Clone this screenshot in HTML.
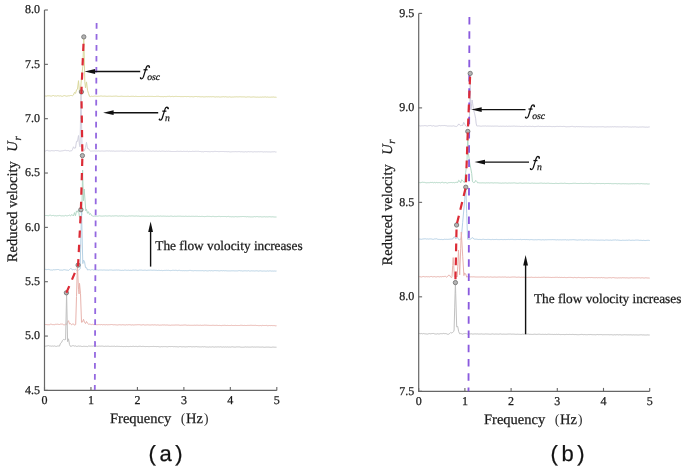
<!DOCTYPE html><html><head><meta charset="utf-8"><style>html,body{margin:0;padding:0;background:#fff;overflow:hidden}svg{display:block;will-change:transform;filter:blur(0.3px);text-rendering:geometricPrecision}text{stroke:#222;stroke-width:0.25px}</style></head><body><svg width="685" height="470" viewBox="0 0 685 470" font-family='"Liberation Serif", serif'>
<rect width="685" height="470" fill="#fff"/>
<path d="M44.5,95.6 L45.5,96.0 L46.5,96.1 L47.5,95.8 L48.5,95.8 L49.5,95.8 L50.5,96.0 L51.5,96.1 L52.5,95.7 L53.5,95.5 L54.5,96.0 L55.5,95.9 L56.5,96.1 L57.5,95.7 L58.5,95.8 L59.5,96.0 L60.5,95.8 L61.5,96.2 L62.5,96.3 L63.5,95.8 L64.5,95.6 L65.5,95.9 L66.5,96.2 L67.5,96.0 L68.5,95.8 L69.5,95.8 L70.5,95.5 L71.5,95.5 L72.5,95.7 L73.5,94.9 L74.5,92.4 L75.5,93.4 L76.5,90.0 L77.5,89.0 L78.5,80.7 L79.5,92.4 L80.5,89.2 L81.5,78.4 L82.8,66.3 L83.8,37.0 L84.8,81.7 L85.5,87.9 L86.5,81.9 L87.5,90.2 L88.5,93.4 L89.5,96.4 L90.5,96.6 L91.5,96.2 L92.5,96.4 L93.5,96.3 L94.5,96.1 L95.5,96.2 L96.5,96.3 L97.5,96.3 L98.5,96.2 L99.5,96.2 L100.5,96.0 L101.5,96.0 L102.5,96.2 L103.5,96.2 L104.5,96.1 L105.5,96.2 L106.5,96.3 L107.5,96.3 L108.5,96.2 L109.5,96.2 L110.5,96.2 L111.5,96.3 L112.5,96.3 L113.5,96.2 L114.5,96.2 L115.5,96.1 L116.5,96.1 L117.5,96.3 L118.5,96.4 L119.5,96.4 L120.5,96.3 L121.5,96.2 L122.5,96.3 L123.5,96.4 L124.5,96.4 L125.5,96.4 L126.5,96.4 L127.5,96.3 L128.5,96.3 L129.5,96.5 L130.5,96.4 L131.5,96.3 L132.5,96.3 L133.5,96.3 L134.5,96.5 L135.5,96.3 L136.5,96.4 L137.5,96.5 L138.5,96.5 L139.5,96.5 L140.5,96.5 L141.5,96.4 L142.5,96.4 L143.5,96.4 L144.5,96.3 L145.5,96.5 L146.5,96.5 L147.5,96.3 L148.5,96.4 L149.5,96.4 L150.5,96.4 L151.5,96.4 L152.5,96.4 L153.5,96.5 L154.5,96.5 L155.5,96.5 L156.5,96.3 L157.5,96.3 L158.5,96.3 L159.5,96.5 L160.5,96.6 L161.5,96.6 L162.5,96.6 L163.5,96.7 L164.5,96.5 L165.5,96.6 L166.5,96.6 L167.5,96.4 L168.5,96.4 L169.5,96.3 L170.5,96.6 L171.5,96.5 L172.5,96.4 L173.5,96.6 L174.5,96.5 L175.5,96.4 L176.5,96.4 L177.5,96.5 L178.5,96.5 L179.5,96.5 L180.5,96.6 L181.5,96.6 L182.5,96.6 L183.5,96.6 L184.5,96.5 L185.5,96.5 L186.5,96.6 L187.5,96.5 L188.5,96.5 L189.5,96.7 L190.5,96.7 L191.5,96.6 L192.5,96.7 L193.5,96.8 L194.5,96.6 L195.5,96.5 L196.5,96.5 L197.5,96.7 L198.5,96.6 L199.5,96.7 L200.5,96.8 L201.5,96.8 L202.5,96.7 L203.5,96.9 L204.5,96.9 L205.5,96.8 L206.5,96.7 L207.5,96.8 L208.5,96.7 L209.5,96.8 L210.5,96.7 L211.5,96.8 L212.5,96.7 L213.5,96.7 L214.5,96.9 L215.5,97.0 L216.5,96.8 L217.5,96.9 L218.5,96.8 L219.5,97.0 L220.5,97.0 L221.5,96.9 L222.5,96.8 L223.5,96.7 L224.5,96.9 L225.5,96.7 L226.5,96.9 L227.5,97.0 L228.5,97.0 L229.5,96.8 L230.5,97.0 L231.5,97.1 L232.5,97.0 L233.5,97.0 L234.5,96.9 L235.5,96.9 L236.5,96.8 L237.5,96.9 L238.5,96.9 L239.5,96.8 L240.5,96.8 L241.5,96.9 L242.5,96.9 L243.5,96.9 L244.5,96.9 L245.5,97.1 L246.5,97.1 L247.5,96.9 L248.5,96.9 L249.5,96.9 L250.5,97.1 L251.5,97.1 L252.5,97.0 L253.5,96.9 L254.5,97.0 L255.5,97.1 L256.5,97.2 L257.5,97.1 L258.5,97.2 L259.5,97.2 L260.5,97.1 L261.5,97.2 L262.5,97.0 L263.5,97.1 L264.5,97.0 L265.5,96.9 L266.5,97.2 L267.5,97.0 L268.5,97.2 L269.5,97.2 L270.5,97.2 L271.5,97.1 L272.5,97.1 L273.5,97.0 L274.5,97.2 L275.5,97.2 L276.5,97.3" fill="none" stroke="#dad89c" stroke-width="1.0" stroke-linejoin="miter" stroke-miterlimit="2"/>
<path d="M44.5,150.9 L45.5,151.0 L46.5,150.5 L47.5,150.4 L48.5,150.8 L49.5,150.9 L50.5,150.9 L51.5,150.6 L52.5,150.7 L53.5,150.8 L54.5,150.8 L55.5,150.5 L56.5,150.6 L57.5,150.6 L58.5,150.8 L59.5,151.1 L60.5,151.1 L61.5,150.9 L62.5,150.8 L63.5,150.6 L64.5,150.4 L65.5,150.3 L66.5,150.6 L67.5,150.6 L68.5,150.6 L69.5,151.1 L70.5,150.9 L71.5,150.9 L72.5,149.5 L73.5,146.8 L74.5,148.3 L75.5,148.0 L76.5,141.3 L77.5,141.4 L78.5,135.5 L79.5,145.3 L80.0,146.8 L80.5,119.4 L81.0,92.0 L81.5,119.8 L82.0,147.7 L82.5,149.0 L83.5,150.1 L84.5,150.6 L85.5,147.4 L86.5,142.3 L87.5,148.5 L88.5,148.6 L89.5,150.3 L90.5,151.1 L91.5,151.1 L92.5,151.0 L93.5,151.0 L94.5,150.9 L95.5,151.1 L96.5,151.0 L97.5,151.1 L98.5,150.9 L99.5,151.1 L100.5,151.1 L101.5,151.0 L102.5,151.0 L103.5,151.1 L104.5,151.1 L105.5,151.0 L106.5,150.9 L107.5,150.9 L108.5,151.0 L109.5,150.9 L110.5,151.1 L111.5,151.0 L112.5,151.1 L113.5,151.0 L114.5,151.2 L115.5,151.2 L116.5,151.1 L117.5,151.1 L118.5,151.1 L119.5,151.1 L120.5,151.0 L121.5,151.0 L122.5,151.1 L123.5,151.2 L124.5,151.2 L125.5,151.0 L126.5,151.2 L127.5,151.2 L128.5,151.3 L129.5,151.1 L130.5,151.2 L131.5,151.0 L132.5,151.1 L133.5,151.1 L134.5,151.0 L135.5,151.2 L136.5,151.1 L137.5,151.1 L138.5,151.3 L139.5,151.1 L140.5,151.1 L141.5,151.3 L142.5,151.2 L143.5,151.3 L144.5,151.1 L145.5,151.1 L146.5,151.1 L147.5,151.2 L148.5,151.1 L149.5,151.3 L150.5,151.1 L151.5,151.3 L152.5,151.1 L153.5,151.1 L154.5,151.3 L155.5,151.2 L156.5,151.1 L157.5,151.3 L158.5,151.3 L159.5,151.1 L160.5,151.4 L161.5,151.2 L162.5,151.1 L163.5,151.2 L164.5,151.3 L165.5,151.4 L166.5,151.2 L167.5,151.3 L168.5,151.2 L169.5,151.3 L170.5,151.4 L171.5,151.5 L172.5,151.5 L173.5,151.5 L174.5,151.5 L175.5,151.5 L176.5,151.4 L177.5,151.3 L178.5,151.4 L179.5,151.4 L180.5,151.3 L181.5,151.4 L182.5,151.5 L183.5,151.3 L184.5,151.4 L185.5,151.4 L186.5,151.4 L187.5,151.3 L188.5,151.6 L189.5,151.4 L190.5,151.5 L191.5,151.5 L192.5,151.3 L193.5,151.4 L194.5,151.4 L195.5,151.3 L196.5,151.3 L197.5,151.3 L198.5,151.3 L199.5,151.5 L200.5,151.5 L201.5,151.7 L202.5,151.7 L203.5,151.8 L204.5,151.5 L205.5,151.5 L206.5,151.5 L207.5,151.6 L208.5,151.6 L209.5,151.7 L210.5,151.7 L211.5,151.5 L212.5,151.6 L213.5,151.6 L214.5,151.4 L215.5,151.4 L216.5,151.5 L217.5,151.5 L218.5,151.6 L219.5,151.6 L220.5,151.5 L221.5,151.5 L222.5,151.5 L223.5,151.5 L224.5,151.6 L225.5,151.6 L226.5,151.6 L227.5,151.7 L228.5,151.6 L229.5,151.8 L230.5,151.9 L231.5,151.8 L232.5,151.7 L233.5,151.7 L234.5,151.7 L235.5,151.6 L236.5,151.7 L237.5,151.7 L238.5,151.6 L239.5,151.6 L240.5,151.8 L241.5,151.7 L242.5,151.8 L243.5,151.9 L244.5,151.9 L245.5,151.7 L246.5,151.9 L247.5,151.8 L248.5,151.6 L249.5,151.8 L250.5,151.7 L251.5,151.7 L252.5,151.9 L253.5,151.9 L254.5,151.7 L255.5,151.8 L256.5,151.8 L257.5,151.8 L258.5,151.7 L259.5,151.8 L260.5,151.7 L261.5,151.7 L262.5,151.8 L263.5,152.0 L264.5,151.8 L265.5,151.9 L266.5,151.8 L267.5,151.9 L268.5,151.9 L269.5,151.9 L270.5,152.0 L271.5,151.9 L272.5,151.8 L273.5,151.8 L274.5,151.7 L275.5,152.0 L276.5,152.0" fill="none" stroke="#d2d1df" stroke-width="1.0" stroke-linejoin="miter" stroke-miterlimit="2"/>
<path d="M44.5,215.4 L45.5,215.5 L46.5,215.5 L47.5,215.6 L48.5,215.7 L49.5,215.3 L50.5,215.2 L51.5,215.7 L52.5,215.5 L53.5,215.4 L54.5,215.8 L55.5,215.7 L56.5,215.9 L57.5,215.7 L58.5,215.7 L59.5,215.4 L60.5,215.7 L61.5,215.9 L62.5,215.8 L63.5,215.9 L64.5,215.9 L65.5,215.4 L66.5,215.8 L67.5,215.8 L68.5,215.5 L69.5,215.1 L70.5,216.0 L71.5,214.6 L72.5,215.0 L73.5,216.0 L74.5,212.6 L75.5,215.7 L76.5,210.9 L77.5,212.2 L78.5,209.8 L79.5,217.3 L80.5,217.5 L81.8,214.4 L82.6,170.0 L83.4,200.7 L84.2,189.0 L85.8,210.8 L86.5,209.3 L87.5,213.3 L88.5,211.7 L89.5,214.6 L90.5,213.5 L91.5,215.5 L92.5,215.9 L93.5,216.3 L94.5,216.1 L95.5,216.2 L96.5,216.1 L97.5,216.2 L98.5,216.0 L99.5,215.8 L100.5,216.0 L101.5,216.1 L102.5,216.1 L103.5,216.0 L104.5,216.0 L105.5,215.8 L106.5,216.0 L107.5,216.0 L108.5,215.9 L109.5,215.8 L110.5,216.0 L111.5,216.1 L112.5,215.9 L113.5,216.0 L114.5,215.9 L115.5,215.8 L116.5,215.8 L117.5,216.0 L118.5,216.1 L119.5,215.9 L120.5,216.0 L121.5,215.8 L122.5,216.0 L123.5,215.9 L124.5,216.1 L125.5,216.2 L126.5,216.1 L127.5,216.2 L128.5,216.0 L129.5,215.9 L130.5,216.0 L131.5,215.9 L132.5,215.9 L133.5,216.0 L134.5,216.1 L135.5,216.0 L136.5,215.9 L137.5,216.1 L138.5,216.0 L139.5,216.2 L140.5,216.3 L141.5,216.1 L142.5,216.1 L143.5,216.1 L144.5,216.2 L145.5,216.2 L146.5,216.2 L147.5,216.2 L148.5,216.3 L149.5,216.2 L150.5,216.1 L151.5,216.2 L152.5,216.1 L153.5,216.1 L154.5,216.3 L155.5,216.2 L156.5,216.2 L157.5,216.0 L158.5,216.1 L159.5,216.2 L160.5,216.0 L161.5,216.2 L162.5,216.2 L163.5,216.1 L164.5,216.2 L165.5,216.2 L166.5,216.3 L167.5,216.2 L168.5,216.3 L169.5,216.3 L170.5,216.1 L171.5,216.1 L172.5,216.3 L173.5,216.4 L174.5,216.2 L175.5,216.3 L176.5,216.3 L177.5,216.2 L178.5,216.2 L179.5,216.2 L180.5,216.2 L181.5,216.3 L182.5,216.3 L183.5,216.3 L184.5,216.4 L185.5,216.2 L186.5,216.3 L187.5,216.4 L188.5,216.3 L189.5,216.3 L190.5,216.4 L191.5,216.3 L192.5,216.3 L193.5,216.3 L194.5,216.4 L195.5,216.3 L196.5,216.3 L197.5,216.3 L198.5,216.5 L199.5,216.4 L200.5,216.5 L201.5,216.4 L202.5,216.4 L203.5,216.5 L204.5,216.6 L205.5,216.5 L206.5,216.4 L207.5,216.3 L208.5,216.4 L209.5,216.4 L210.5,216.5 L211.5,216.6 L212.5,216.4 L213.5,216.4 L214.5,216.6 L215.5,216.6 L216.5,216.6 L217.5,216.5 L218.5,216.4 L219.5,216.4 L220.5,216.6 L221.5,216.5 L222.5,216.5 L223.5,216.5 L224.5,216.5 L225.5,216.5 L226.5,216.7 L227.5,216.5 L228.5,216.4 L229.5,216.7 L230.5,216.7 L231.5,216.8 L232.5,216.7 L233.5,216.8 L234.5,216.8 L235.5,216.6 L236.5,216.7 L237.5,216.8 L238.5,216.7 L239.5,216.7 L240.5,216.6 L241.5,216.6 L242.5,216.5 L243.5,216.5 L244.5,216.6 L245.5,216.6 L246.5,216.8 L247.5,216.6 L248.5,216.8 L249.5,216.8 L250.5,216.9 L251.5,216.9 L252.5,216.9 L253.5,216.8 L254.5,216.6 L255.5,216.8 L256.5,216.6 L257.5,216.6 L258.5,216.8 L259.5,216.8 L260.5,216.7 L261.5,216.9 L262.5,216.9 L263.5,216.8 L264.5,216.7 L265.5,216.9 L266.5,216.8 L267.5,216.9 L268.5,216.8 L269.5,216.7 L270.5,216.8 L271.5,216.9 L272.5,216.8 L273.5,216.9 L274.5,217.0 L275.5,217.0 L276.5,217.0" fill="none" stroke="#b3d8c6" stroke-width="1.0" stroke-linejoin="miter" stroke-miterlimit="2"/>
<path d="M44.5,269.6 L45.5,269.4 L46.5,269.6 L47.5,269.5 L48.5,269.4 L49.5,269.6 L50.5,270.0 L51.5,270.0 L52.5,270.1 L53.5,269.7 L54.5,269.8 L55.5,269.7 L56.5,269.6 L57.5,269.5 L58.5,269.5 L59.5,270.0 L60.5,270.1 L61.5,270.1 L62.5,270.2 L63.5,269.8 L64.5,269.7 L65.5,269.9 L66.5,270.1 L67.5,270.2 L68.5,270.4 L69.5,269.6 L70.5,268.6 L71.5,268.8 L72.5,270.0 L73.5,269.5 L74.5,269.7 L75.5,269.1 L76.5,270.4 L77.5,270.8 L78.5,270.3 L79.5,269.3 L80.2,268.5 L81.5,210.0 L82.8,263.6 L83.5,260.1 L84.5,261.5 L85.5,267.6 L86.5,267.7 L87.5,270.0 L88.5,269.7 L89.5,269.7 L90.5,270.1 L91.5,269.7 L92.5,269.6 L93.5,270.0 L94.5,269.9 L95.5,270.0 L96.5,270.0 L97.5,270.0 L98.5,270.2 L99.5,270.0 L100.5,270.0 L101.5,270.0 L102.5,270.1 L103.5,270.0 L104.5,270.0 L105.5,270.1 L106.5,270.1 L107.5,270.1 L108.5,270.2 L109.5,270.0 L110.5,270.0 L111.5,270.0 L112.5,270.2 L113.5,270.2 L114.5,270.1 L115.5,270.1 L116.5,270.0 L117.5,270.1 L118.5,270.0 L119.5,270.2 L120.5,270.3 L121.5,270.4 L122.5,270.3 L123.5,270.4 L124.5,270.1 L125.5,270.1 L126.5,270.3 L127.5,270.3 L128.5,270.2 L129.5,270.4 L130.5,270.3 L131.5,270.4 L132.5,270.2 L133.5,270.1 L134.5,270.2 L135.5,270.1 L136.5,270.2 L137.5,270.4 L138.5,270.3 L139.5,270.1 L140.5,270.1 L141.5,270.1 L142.5,270.3 L143.5,270.3 L144.5,270.2 L145.5,270.2 L146.5,270.4 L147.5,270.3 L148.5,270.2 L149.5,270.2 L150.5,270.1 L151.5,270.2 L152.5,270.3 L153.5,270.2 L154.5,270.2 L155.5,270.3 L156.5,270.3 L157.5,270.5 L158.5,270.3 L159.5,270.4 L160.5,270.5 L161.5,270.4 L162.5,270.6 L163.5,270.5 L164.5,270.4 L165.5,270.4 L166.5,270.3 L167.5,270.4 L168.5,270.3 L169.5,270.5 L170.5,270.6 L171.5,270.5 L172.5,270.3 L173.5,270.3 L174.5,270.4 L175.5,270.3 L176.5,270.4 L177.5,270.6 L178.5,270.4 L179.5,270.3 L180.5,270.6 L181.5,270.6 L182.5,270.7 L183.5,270.6 L184.5,270.7 L185.5,270.6 L186.5,270.7 L187.5,270.7 L188.5,270.6 L189.5,270.4 L190.5,270.4 L191.5,270.6 L192.5,270.7 L193.5,270.8 L194.5,270.6 L195.5,270.6 L196.5,270.7 L197.5,270.7 L198.5,270.7 L199.5,270.7 L200.5,270.7 L201.5,270.7 L202.5,270.6 L203.5,270.8 L204.5,270.8 L205.5,270.6 L206.5,270.8 L207.5,270.9 L208.5,270.8 L209.5,270.6 L210.5,270.8 L211.5,270.6 L212.5,270.8 L213.5,270.8 L214.5,270.6 L215.5,270.6 L216.5,270.7 L217.5,270.7 L218.5,270.8 L219.5,270.9 L220.5,270.7 L221.5,270.6 L222.5,270.8 L223.5,270.6 L224.5,270.8 L225.5,270.7 L226.5,270.8 L227.5,270.9 L228.5,270.9 L229.5,270.9 L230.5,270.9 L231.5,270.8 L232.5,270.8 L233.5,270.8 L234.5,270.9 L235.5,270.9 L236.5,270.9 L237.5,270.9 L238.5,270.7 L239.5,270.6 L240.5,270.8 L241.5,270.8 L242.5,271.0 L243.5,270.9 L244.5,270.8 L245.5,270.8 L246.5,270.9 L247.5,270.9 L248.5,270.7 L249.5,271.0 L250.5,271.0 L251.5,270.8 L252.5,270.9 L253.5,270.9 L254.5,271.0 L255.5,270.9 L256.5,270.8 L257.5,270.9 L258.5,271.1 L259.5,270.9 L260.5,270.8 L261.5,271.0 L262.5,271.1 L263.5,271.0 L264.5,271.0 L265.5,271.1 L266.5,271.1 L267.5,270.9 L268.5,271.1 L269.5,270.9 L270.5,270.9 L271.5,271.1 L272.5,271.0 L273.5,271.1 L274.5,271.0 L275.5,271.1 L276.5,271.0" fill="none" stroke="#b6d1e4" stroke-width="1.0" stroke-linejoin="miter" stroke-miterlimit="2"/>
<path d="M44.5,324.4 L45.5,324.5 L46.5,324.6 L47.5,324.7 L48.5,324.7 L49.5,324.7 L50.5,324.2 L51.5,324.3 L52.5,324.6 L53.5,324.6 L54.5,324.7 L55.5,324.3 L56.5,324.3 L57.5,324.2 L58.5,324.4 L59.5,324.5 L60.5,324.1 L61.5,324.1 L62.5,324.1 L63.5,324.7 L64.5,324.8 L65.5,324.2 L66.5,324.7 L67.5,321.8 L68.5,320.7 L69.5,323.9 L70.5,323.5 L71.5,324.8 L72.5,324.1 L73.5,323.9 L74.5,325.2 L75.7,324.5 L76.5,296.5 L77.4,265.0 L78.5,289.6 L79.1,294.0 L79.5,283.3 L80.5,293.7 L81.5,322.3 L82.5,322.0 L83.5,319.3 L84.5,322.3 L85.5,323.6 L86.5,321.5 L87.5,323.3 L88.5,324.2 L89.5,324.1 L90.5,324.3 L91.5,324.6 L92.5,324.3 L93.5,324.6 L94.5,324.6 L95.5,324.6 L96.5,324.7 L97.5,324.7 L98.5,324.6 L99.5,324.6 L100.5,324.7 L101.5,324.5 L102.5,324.8 L103.5,324.6 L104.5,324.7 L105.5,324.8 L106.5,324.6 L107.5,324.8 L108.5,324.7 L109.5,324.7 L110.5,324.6 L111.5,324.5 L112.5,324.6 L113.5,324.8 L114.5,324.7 L115.5,324.8 L116.5,324.9 L117.5,325.0 L118.5,324.8 L119.5,324.7 L120.5,324.8 L121.5,324.9 L122.5,324.7 L123.5,324.8 L124.5,324.9 L125.5,325.0 L126.5,324.7 L127.5,324.9 L128.5,324.7 L129.5,324.7 L130.5,324.8 L131.5,325.0 L132.5,324.8 L133.5,325.0 L134.5,324.9 L135.5,324.8 L136.5,324.8 L137.5,324.7 L138.5,324.7 L139.5,324.7 L140.5,324.9 L141.5,325.0 L142.5,324.8 L143.5,324.7 L144.5,325.0 L145.5,325.0 L146.5,324.9 L147.5,324.8 L148.5,324.9 L149.5,325.0 L150.5,325.0 L151.5,324.9 L152.5,324.8 L153.5,325.0 L154.5,324.8 L155.5,324.9 L156.5,325.1 L157.5,324.9 L158.5,325.0 L159.5,325.2 L160.5,325.1 L161.5,325.1 L162.5,324.9 L163.5,325.0 L164.5,324.9 L165.5,325.1 L166.5,325.0 L167.5,325.0 L168.5,325.2 L169.5,325.2 L170.5,325.3 L171.5,325.1 L172.5,325.1 L173.5,325.1 L174.5,325.1 L175.5,325.0 L176.5,325.0 L177.5,325.0 L178.5,325.0 L179.5,325.2 L180.5,325.3 L181.5,325.2 L182.5,325.2 L183.5,325.1 L184.5,325.0 L185.5,325.0 L186.5,325.2 L187.5,325.3 L188.5,325.2 L189.5,325.3 L190.5,325.3 L191.5,325.3 L192.5,325.3 L193.5,325.3 L194.5,325.2 L195.5,325.3 L196.5,325.2 L197.5,325.2 L198.5,325.3 L199.5,325.3 L200.5,325.2 L201.5,325.4 L202.5,325.3 L203.5,325.3 L204.5,325.1 L205.5,325.2 L206.5,325.2 L207.5,325.3 L208.5,325.3 L209.5,325.4 L210.5,325.4 L211.5,325.4 L212.5,325.3 L213.5,325.3 L214.5,325.4 L215.5,325.4 L216.5,325.3 L217.5,325.4 L218.5,325.5 L219.5,325.4 L220.5,325.5 L221.5,325.6 L222.5,325.4 L223.5,325.4 L224.5,325.3 L225.5,325.4 L226.5,325.5 L227.5,325.4 L228.5,325.5 L229.5,325.5 L230.5,325.5 L231.5,325.3 L232.5,325.5 L233.5,325.5 L234.5,325.5 L235.5,325.4 L236.5,325.5 L237.5,325.5 L238.5,325.5 L239.5,325.5 L240.5,325.3 L241.5,325.3 L242.5,325.4 L243.5,325.5 L244.5,325.4 L245.5,325.5 L246.5,325.5 L247.5,325.4 L248.5,325.4 L249.5,325.4 L250.5,325.3 L251.5,325.3 L252.5,325.4 L253.5,325.4 L254.5,325.4 L255.5,325.3 L256.5,325.5 L257.5,325.5 L258.5,325.6 L259.5,325.6 L260.5,325.5 L261.5,325.7 L262.5,325.4 L263.5,325.5 L264.5,325.5 L265.5,325.5 L266.5,325.4 L267.5,325.7 L268.5,325.6 L269.5,325.5 L270.5,325.6 L271.5,325.5 L272.5,325.6 L273.5,325.6 L274.5,325.6 L275.5,325.8 L276.5,325.8" fill="none" stroke="#e8b3ad" stroke-width="1.0" stroke-linejoin="miter" stroke-miterlimit="2"/>
<path d="M44.5,346.1 L45.5,346.2 L46.5,346.0 L47.5,345.8 L48.5,345.6 L49.5,346.0 L50.5,346.0 L51.5,346.2 L52.5,346.0 L53.5,346.2 L54.5,345.9 L55.5,346.3 L56.5,346.4 L57.5,346.0 L58.5,346.0 L59.5,346.1 L60.5,343.3 L61.5,342.6 L62.5,340.4 L63.5,339.4 L64.5,339.7 L65.6,339.5 L66.6,293.0 L67.6,341.6 L68.5,338.8 L69.5,344.6 L70.5,346.4 L71.5,346.2 L72.5,345.7 L73.5,345.7 L74.5,346.1 L75.5,345.9 L76.5,346.4 L77.5,346.3 L78.5,346.0 L79.5,346.2 L80.5,346.1 L81.5,346.4 L82.5,346.5 L83.5,346.3 L84.5,346.3 L85.5,346.4 L86.5,346.4 L87.5,346.6 L88.5,346.0 L89.5,346.1 L90.5,346.2 L91.5,346.1 L92.5,346.2 L93.5,346.0 L94.5,346.3 L95.5,346.3 L96.5,346.1 L97.5,346.3 L98.5,346.2 L99.5,346.1 L100.5,346.2 L101.5,346.1 L102.5,346.1 L103.5,346.3 L104.5,346.4 L105.5,346.2 L106.5,346.3 L107.5,346.2 L108.5,346.2 L109.5,346.4 L110.5,346.4 L111.5,346.3 L112.5,346.3 L113.5,346.3 L114.5,346.2 L115.5,346.5 L116.5,346.3 L117.5,346.3 L118.5,346.4 L119.5,346.4 L120.5,346.5 L121.5,346.4 L122.5,346.5 L123.5,346.6 L124.5,346.5 L125.5,346.6 L126.5,346.4 L127.5,346.5 L128.5,346.6 L129.5,346.5 L130.5,346.4 L131.5,346.5 L132.5,346.4 L133.5,346.3 L134.5,346.5 L135.5,346.4 L136.5,346.4 L137.5,346.6 L138.5,346.4 L139.5,346.3 L140.5,346.3 L141.5,346.5 L142.5,346.4 L143.5,346.4 L144.5,346.5 L145.5,346.6 L146.5,346.5 L147.5,346.5 L148.5,346.6 L149.5,346.6 L150.5,346.5 L151.5,346.5 L152.5,346.5 L153.5,346.4 L154.5,346.5 L155.5,346.5 L156.5,346.6 L157.5,346.5 L158.5,346.6 L159.5,346.8 L160.5,346.8 L161.5,346.6 L162.5,346.7 L163.5,346.6 L164.5,346.6 L165.5,346.6 L166.5,346.7 L167.5,346.8 L168.5,346.6 L169.5,346.5 L170.5,346.6 L171.5,346.5 L172.5,346.5 L173.5,346.7 L174.5,346.6 L175.5,346.7 L176.5,346.7 L177.5,346.8 L178.5,346.9 L179.5,346.6 L180.5,346.6 L181.5,346.8 L182.5,346.8 L183.5,346.7 L184.5,346.8 L185.5,346.9 L186.5,346.8 L187.5,346.8 L188.5,346.6 L189.5,346.7 L190.5,346.6 L191.5,346.8 L192.5,346.8 L193.5,346.7 L194.5,346.8 L195.5,346.7 L196.5,346.6 L197.5,346.8 L198.5,346.8 L199.5,346.9 L200.5,346.9 L201.5,346.9 L202.5,346.7 L203.5,346.9 L204.5,346.7 L205.5,346.9 L206.5,347.0 L207.5,347.0 L208.5,347.1 L209.5,346.9 L210.5,347.0 L211.5,347.0 L212.5,346.8 L213.5,347.0 L214.5,347.1 L215.5,346.9 L216.5,347.0 L217.5,346.9 L218.5,346.9 L219.5,347.0 L220.5,346.8 L221.5,347.0 L222.5,347.1 L223.5,346.9 L224.5,347.1 L225.5,346.9 L226.5,347.1 L227.5,346.9 L228.5,347.1 L229.5,347.0 L230.5,347.1 L231.5,346.9 L232.5,346.8 L233.5,347.0 L234.5,347.1 L235.5,347.1 L236.5,346.9 L237.5,346.9 L238.5,346.9 L239.5,346.9 L240.5,347.1 L241.5,347.2 L242.5,347.2 L243.5,347.2 L244.5,347.1 L245.5,346.9 L246.5,347.1 L247.5,347.0 L248.5,347.1 L249.5,347.1 L250.5,347.1 L251.5,347.0 L252.5,346.9 L253.5,347.1 L254.5,347.0 L255.5,347.1 L256.5,347.0 L257.5,347.0 L258.5,347.0 L259.5,347.1 L260.5,347.1 L261.5,347.1 L262.5,347.0 L263.5,347.2 L264.5,347.3 L265.5,347.2 L266.5,347.1 L267.5,347.1 L268.5,347.1 L269.5,347.2 L270.5,347.3 L271.5,347.3 L272.5,347.1 L273.5,347.1 L274.5,347.2 L275.5,347.2 L276.5,347.2" fill="none" stroke="#c0c0c0" stroke-width="1.0" stroke-linejoin="miter" stroke-miterlimit="2"/>
<path d="M418.7,125.7 L419.7,125.8 L420.7,126.0 L421.7,125.8 L422.7,125.8 L423.7,125.8 L424.7,125.6 L425.7,125.7 L426.7,125.9 L427.7,126.0 L428.7,125.6 L429.7,125.6 L430.7,125.5 L431.7,125.9 L432.7,126.0 L433.7,125.6 L434.7,126.1 L435.7,126.2 L436.7,126.1 L437.7,126.0 L438.7,125.7 L439.7,125.5 L440.7,125.8 L441.7,125.6 L442.7,125.6 L443.7,125.6 L444.7,125.5 L445.7,125.7 L446.7,125.8 L447.7,126.1 L448.7,126.0 L449.7,126.0 L450.7,126.0 L451.7,126.1 L452.7,126.0 L453.7,125.8 L454.7,126.2 L455.7,126.4 L456.7,126.4 L457.7,125.6 L458.7,123.9 L459.7,125.0 L460.7,125.7 L461.7,125.4 L462.7,125.5 L463.7,122.3 L464.7,124.1 L465.7,126.0 L466.7,126.8 L467.7,126.9 L468.7,125.6 L469.4,123.4 L469.7,106.3 L470.2,73.4 L470.7,106.3 L471.0,109.5 L471.7,103.5 L472.1,100.0 L472.7,103.9 L473.7,110.4 L474.7,113.9 L475.7,118.8 L476.1,123.1 L476.7,125.8 L477.7,126.0 L478.7,125.9 L479.7,126.0 L480.7,126.2 L481.7,126.2 L482.7,126.0 L483.7,126.0 L484.7,126.0 L485.7,125.9 L486.7,126.2 L487.7,126.0 L488.7,126.1 L489.7,126.1 L490.7,126.1 L491.7,126.2 L492.7,126.1 L493.7,126.2 L494.7,126.1 L495.7,126.1 L496.7,126.1 L497.7,126.1 L498.7,126.3 L499.7,126.3 L500.7,126.2 L501.7,126.3 L502.7,126.2 L503.7,126.2 L504.7,126.3 L505.7,126.3 L506.7,126.1 L507.7,126.4 L508.7,126.2 L509.7,126.2 L510.7,126.3 L511.7,126.2 L512.7,126.2 L513.7,126.1 L514.7,126.1 L515.7,126.3 L516.7,126.2 L517.7,126.3 L518.7,126.3 L519.7,126.3 L520.7,126.5 L521.7,126.4 L522.7,126.4 L523.7,126.5 L524.7,126.3 L525.7,126.2 L526.7,126.4 L527.7,126.5 L528.7,126.3 L529.7,126.3 L530.7,126.4 L531.7,126.5 L532.7,126.3 L533.7,126.5 L534.7,126.6 L535.7,126.5 L536.7,126.4 L537.7,126.3 L538.7,126.2 L539.7,126.5 L540.7,126.4 L541.7,126.5 L542.7,126.4 L543.7,126.5 L544.7,126.5 L545.7,126.4 L546.7,126.4 L547.7,126.5 L548.7,126.4 L549.7,126.4 L550.7,126.5 L551.7,126.6 L552.7,126.6 L553.7,126.5 L554.7,126.6 L555.7,126.5 L556.7,126.4 L557.7,126.4 L558.7,126.5 L559.7,126.4 L560.7,126.4 L561.7,126.5 L562.7,126.5 L563.7,126.4 L564.7,126.5 L565.7,126.7 L566.7,126.8 L567.7,126.7 L568.7,126.7 L569.7,126.7 L570.7,126.5 L571.7,126.4 L572.7,126.4 L573.7,126.7 L574.7,126.7 L575.7,126.8 L576.7,126.5 L577.7,126.7 L578.7,126.6 L579.7,126.7 L580.7,126.6 L581.7,126.8 L582.7,126.6 L583.7,126.7 L584.7,126.8 L585.7,126.8 L586.7,126.8 L587.7,126.8 L588.7,126.8 L589.7,126.9 L590.7,126.7 L591.7,126.8 L592.7,126.9 L593.7,126.9 L594.7,126.8 L595.7,126.8 L596.7,126.9 L597.7,126.8 L598.7,126.8 L599.7,126.8 L600.7,126.8 L601.7,126.8 L602.7,126.7 L603.7,126.8 L604.7,127.0 L605.7,127.0 L606.7,126.9 L607.7,126.8 L608.7,126.9 L609.7,126.9 L610.7,126.8 L611.7,126.9 L612.7,126.7 L613.7,126.9 L614.7,126.7 L615.7,126.8 L616.7,126.9 L617.7,126.8 L618.7,126.9 L619.7,126.9 L620.7,126.9 L621.7,127.0 L622.7,126.9 L623.7,126.7 L624.7,126.8 L625.7,126.9 L626.7,126.8 L627.7,126.8 L628.7,127.0 L629.7,127.0 L630.7,127.0 L631.7,127.1 L632.7,126.9 L633.7,127.0 L634.7,126.9 L635.7,126.9 L636.7,127.1 L637.7,127.1 L638.7,127.2 L639.7,127.0 L640.7,127.0 L641.7,127.0 L642.7,126.9 L643.7,127.0 L644.7,127.1 L645.7,127.2 L646.7,127.1 L647.7,127.2 L648.7,127.0 L649.7,126.9" fill="none" stroke="#d1d0df" stroke-width="1.0" stroke-linejoin="miter" stroke-miterlimit="2"/>
<path d="M418.7,182.5 L419.7,182.6 L420.7,182.7 L421.7,182.4 L422.7,182.2 L423.7,182.4 L424.7,182.4 L425.7,182.7 L426.7,182.8 L427.7,182.7 L428.7,182.7 L429.7,182.7 L430.7,182.4 L431.7,182.5 L432.7,182.4 L433.7,182.8 L434.7,182.4 L435.7,182.8 L436.7,182.4 L437.7,182.7 L438.7,182.6 L439.7,182.6 L440.7,182.9 L441.7,182.4 L442.7,182.3 L443.7,182.8 L444.7,182.7 L445.7,182.5 L446.7,182.9 L447.7,183.1 L448.7,182.6 L449.7,182.6 L450.7,182.5 L451.7,182.5 L452.7,182.7 L453.7,182.5 L454.7,182.8 L455.7,182.4 L456.7,182.3 L457.7,182.5 L458.7,180.3 L459.7,181.1 L460.7,182.9 L461.7,179.7 L462.7,180.7 L463.7,181.8 L464.4,182.8 L464.7,180.4 L465.7,172.3 L466.7,164.2 L467.0,161.7 L467.8,131.4 L468.2,152.0 L468.6,154.9 L469.7,163.0 L470.7,168.2 L471.7,173.4 L472.4,181.1 L472.7,181.9 L473.7,182.6 L474.7,182.3 L475.7,180.4 L476.7,181.4 L477.7,182.9 L478.7,182.7 L479.7,182.9 L480.7,182.9 L481.7,182.9 L482.7,182.8 L483.7,182.9 L484.7,182.9 L485.7,183.0 L486.7,182.8 L487.7,182.9 L488.7,182.8 L489.7,183.0 L490.7,182.8 L491.7,182.8 L492.7,182.9 L493.7,183.0 L494.7,182.8 L495.7,182.9 L496.7,182.9 L497.7,182.9 L498.7,183.0 L499.7,183.1 L500.7,183.1 L501.7,183.2 L502.7,183.0 L503.7,183.1 L504.7,183.0 L505.7,182.9 L506.7,183.1 L507.7,183.2 L508.7,183.0 L509.7,183.0 L510.7,183.1 L511.7,183.0 L512.7,183.0 L513.7,182.9 L514.7,182.9 L515.7,183.1 L516.7,183.2 L517.7,183.3 L518.7,183.2 L519.7,183.0 L520.7,183.0 L521.7,183.2 L522.7,183.3 L523.7,183.2 L524.7,183.1 L525.7,183.1 L526.7,183.1 L527.7,183.2 L528.7,183.1 L529.7,183.3 L530.7,183.3 L531.7,183.1 L532.7,183.1 L533.7,183.3 L534.7,183.2 L535.7,183.3 L536.7,183.3 L537.7,183.3 L538.7,183.3 L539.7,183.2 L540.7,183.1 L541.7,183.1 L542.7,183.3 L543.7,183.3 L544.7,183.2 L545.7,183.4 L546.7,183.3 L547.7,183.2 L548.7,183.2 L549.7,183.4 L550.7,183.4 L551.7,183.4 L552.7,183.5 L553.7,183.5 L554.7,183.5 L555.7,183.3 L556.7,183.4 L557.7,183.5 L558.7,183.5 L559.7,183.4 L560.7,183.3 L561.7,183.3 L562.7,183.4 L563.7,183.4 L564.7,183.2 L565.7,183.4 L566.7,183.5 L567.7,183.5 L568.7,183.6 L569.7,183.6 L570.7,183.5 L571.7,183.5 L572.7,183.4 L573.7,183.3 L574.7,183.3 L575.7,183.3 L576.7,183.5 L577.7,183.5 L578.7,183.5 L579.7,183.5 L580.7,183.4 L581.7,183.4 L582.7,183.5 L583.7,183.5 L584.7,183.4 L585.7,183.4 L586.7,183.4 L587.7,183.5 L588.7,183.4 L589.7,183.3 L590.7,183.4 L591.7,183.5 L592.7,183.6 L593.7,183.6 L594.7,183.7 L595.7,183.6 L596.7,183.4 L597.7,183.5 L598.7,183.5 L599.7,183.5 L600.7,183.6 L601.7,183.5 L602.7,183.5 L603.7,183.5 L604.7,183.7 L605.7,183.5 L606.7,183.5 L607.7,183.5 L608.7,183.5 L609.7,183.6 L610.7,183.5 L611.7,183.7 L612.7,183.7 L613.7,183.7 L614.7,183.6 L615.7,183.6 L616.7,183.7 L617.7,183.8 L618.7,183.6 L619.7,183.7 L620.7,183.8 L621.7,183.8 L622.7,183.7 L623.7,183.7 L624.7,183.8 L625.7,183.7 L626.7,183.8 L627.7,183.8 L628.7,183.9 L629.7,183.8 L630.7,183.8 L631.7,183.7 L632.7,183.8 L633.7,183.7 L634.7,183.8 L635.7,183.7 L636.7,183.7 L637.7,183.6 L638.7,183.7 L639.7,183.8 L640.7,183.7 L641.7,183.6 L642.7,183.8 L643.7,183.8 L644.7,183.9 L645.7,183.9 L646.7,183.8 L647.7,184.0 L648.7,184.0 L649.7,183.9" fill="none" stroke="#b3d8c6" stroke-width="1.0" stroke-linejoin="miter" stroke-miterlimit="2"/>
<path d="M418.7,238.9 L419.7,239.1 L420.7,239.2 L421.7,239.3 L422.7,239.0 L423.7,238.9 L424.7,238.8 L425.7,238.8 L426.7,239.1 L427.7,238.9 L428.7,239.1 L429.7,238.9 L430.7,238.9 L431.7,239.0 L432.7,239.3 L433.7,239.3 L434.7,238.9 L435.7,238.9 L436.7,238.8 L437.7,239.3 L438.7,239.4 L439.7,239.4 L440.7,239.5 L441.7,239.4 L442.7,239.6 L443.7,239.5 L444.7,239.2 L445.7,239.4 L446.7,239.3 L447.7,239.4 L448.7,239.3 L449.7,239.2 L450.7,239.1 L451.7,239.1 L452.7,239.0 L453.7,237.3 L454.7,236.9 L455.7,239.1 L456.7,237.8 L457.7,237.6 L458.7,239.6 L459.7,239.9 L460.7,238.8 L461.2,239.3 L461.7,233.6 L462.7,222.3 L463.7,211.0 L464.7,199.7 L465.8,187.2 L466.7,213.3 L467.6,239.3 L468.7,239.4 L469.7,239.3 L470.7,239.0 L471.7,238.2 L472.7,237.6 L473.7,238.9 L474.7,239.2 L475.7,239.2 L476.7,239.2 L477.7,239.4 L478.7,239.5 L479.7,239.4 L480.7,239.5 L481.7,239.6 L482.7,239.3 L483.7,239.3 L484.7,239.5 L485.7,239.5 L486.7,239.5 L487.7,239.4 L488.7,239.4 L489.7,239.5 L490.7,239.6 L491.7,239.6 L492.7,239.4 L493.7,239.6 L494.7,239.5 L495.7,239.5 L496.7,239.4 L497.7,239.6 L498.7,239.6 L499.7,239.6 L500.7,239.5 L501.7,239.5 L502.7,239.6 L503.7,239.6 L504.7,239.5 L505.7,239.6 L506.7,239.5 L507.7,239.5 L508.7,239.4 L509.7,239.6 L510.7,239.4 L511.7,239.4 L512.7,239.4 L513.7,239.6 L514.7,239.6 L515.7,239.6 L516.7,239.5 L517.7,239.5 L518.7,239.5 L519.7,239.5 L520.7,239.4 L521.7,239.7 L522.7,239.5 L523.7,239.5 L524.7,239.5 L525.7,239.6 L526.7,239.5 L527.7,239.6 L528.7,239.6 L529.7,239.8 L530.7,239.6 L531.7,239.6 L532.7,239.7 L533.7,239.8 L534.7,239.8 L535.7,239.7 L536.7,239.8 L537.7,239.7 L538.7,239.6 L539.7,239.7 L540.7,239.8 L541.7,239.9 L542.7,239.7 L543.7,239.8 L544.7,239.9 L545.7,239.7 L546.7,239.8 L547.7,239.7 L548.7,239.7 L549.7,239.7 L550.7,239.7 L551.7,239.7 L552.7,239.6 L553.7,239.7 L554.7,239.7 L555.7,239.8 L556.7,239.9 L557.7,239.7 L558.7,239.9 L559.7,239.8 L560.7,239.8 L561.7,239.9 L562.7,239.8 L563.7,239.8 L564.7,239.8 L565.7,239.7 L566.7,240.0 L567.7,239.8 L568.7,240.0 L569.7,239.8 L570.7,239.8 L571.7,239.8 L572.7,239.7 L573.7,239.7 L574.7,239.8 L575.7,239.9 L576.7,240.0 L577.7,240.1 L578.7,239.9 L579.7,239.9 L580.7,239.8 L581.7,240.0 L582.7,239.9 L583.7,240.1 L584.7,240.0 L585.7,239.9 L586.7,239.8 L587.7,239.9 L588.7,240.1 L589.7,239.9 L590.7,240.0 L591.7,240.0 L592.7,240.0 L593.7,240.1 L594.7,240.0 L595.7,240.1 L596.7,240.1 L597.7,240.2 L598.7,240.1 L599.7,240.2 L600.7,240.1 L601.7,240.1 L602.7,240.1 L603.7,240.2 L604.7,240.3 L605.7,240.0 L606.7,240.0 L607.7,240.1 L608.7,240.2 L609.7,240.2 L610.7,240.1 L611.7,240.3 L612.7,240.1 L613.7,240.0 L614.7,240.0 L615.7,239.9 L616.7,240.2 L617.7,240.0 L618.7,240.2 L619.7,240.3 L620.7,240.4 L621.7,240.4 L622.7,240.2 L623.7,240.3 L624.7,240.3 L625.7,240.3 L626.7,240.2 L627.7,240.3 L628.7,240.1 L629.7,240.1 L630.7,240.4 L631.7,240.3 L632.7,240.2 L633.7,240.3 L634.7,240.3 L635.7,240.1 L636.7,240.1 L637.7,240.1 L638.7,240.2 L639.7,240.4 L640.7,240.3 L641.7,240.4 L642.7,240.5 L643.7,240.3 L644.7,240.5 L645.7,240.5 L646.7,240.4 L647.7,240.3 L648.7,240.3 L649.7,240.5" fill="none" stroke="#b6d1e6" stroke-width="1.0" stroke-linejoin="miter" stroke-miterlimit="2"/>
<path d="M418.7,276.4 L419.7,276.7 L420.7,276.8 L421.7,277.0 L422.7,276.6 L423.7,276.5 L424.7,276.8 L425.7,276.8 L426.7,276.6 L427.7,276.8 L428.7,276.7 L429.7,276.9 L430.7,276.5 L431.7,276.5 L432.7,276.9 L433.7,276.7 L434.7,276.6 L435.7,276.9 L436.7,276.9 L437.7,276.6 L438.7,276.7 L439.7,276.9 L440.7,276.6 L441.7,276.8 L442.7,276.5 L443.7,276.6 L444.7,276.4 L445.7,276.4 L446.7,277.2 L447.7,276.4 L448.7,275.1 L449.7,275.4 L450.7,277.1 L451.7,277.6 L452.0,276.8 L452.7,265.6 L453.2,257.6 L453.7,265.6 L454.4,276.9 L454.7,276.8 L455.7,277.2 L456.7,276.3 L457.2,276.9 L457.7,266.5 L458.5,250.0 L459.7,274.8 L460.7,248.8 L461.3,232.0 L461.7,238.9 L462.7,256.2 L463.9,275.6 L464.7,273.0 L465.7,273.9 L466.7,277.1 L467.7,276.6 L468.7,276.7 L469.7,276.7 L470.7,276.9 L471.7,276.8 L472.7,276.9 L473.7,276.8 L474.7,276.9 L475.7,277.0 L476.7,277.0 L477.7,277.0 L478.7,277.0 L479.7,277.0 L480.7,277.0 L481.7,276.9 L482.7,277.0 L483.7,276.9 L484.7,277.1 L485.7,277.2 L486.7,277.0 L487.7,276.9 L488.7,277.1 L489.7,277.1 L490.7,276.9 L491.7,277.1 L492.7,277.2 L493.7,277.1 L494.7,277.0 L495.7,277.1 L496.7,277.2 L497.7,277.1 L498.7,277.0 L499.7,277.0 L500.7,277.1 L501.7,277.1 L502.7,277.0 L503.7,277.1 L504.7,277.0 L505.7,277.0 L506.7,277.3 L507.7,277.2 L508.7,277.1 L509.7,277.3 L510.7,277.2 L511.7,277.1 L512.7,277.0 L513.7,277.0 L514.7,277.0 L515.7,277.1 L516.7,277.3 L517.7,277.2 L518.7,277.1 L519.7,277.2 L520.7,277.4 L521.7,277.2 L522.7,277.3 L523.7,277.2 L524.7,277.3 L525.7,277.3 L526.7,277.4 L527.7,277.4 L528.7,277.3 L529.7,277.4 L530.7,277.3 L531.7,277.2 L532.7,277.4 L533.7,277.4 L534.7,277.4 L535.7,277.3 L536.7,277.4 L537.7,277.4 L538.7,277.3 L539.7,277.4 L540.7,277.4 L541.7,277.3 L542.7,277.3 L543.7,277.2 L544.7,277.2 L545.7,277.4 L546.7,277.3 L547.7,277.3 L548.7,277.3 L549.7,277.4 L550.7,277.4 L551.7,277.5 L552.7,277.4 L553.7,277.4 L554.7,277.4 L555.7,277.3 L556.7,277.3 L557.7,277.3 L558.7,277.5 L559.7,277.3 L560.7,277.5 L561.7,277.4 L562.7,277.5 L563.7,277.5 L564.7,277.4 L565.7,277.6 L566.7,277.6 L567.7,277.5 L568.7,277.4 L569.7,277.4 L570.7,277.4 L571.7,277.5 L572.7,277.6 L573.7,277.7 L574.7,277.4 L575.7,277.6 L576.7,277.7 L577.7,277.6 L578.7,277.4 L579.7,277.6 L580.7,277.6 L581.7,277.7 L582.7,277.7 L583.7,277.7 L584.7,277.8 L585.7,277.5 L586.7,277.7 L587.7,277.6 L588.7,277.5 L589.7,277.5 L590.7,277.6 L591.7,277.5 L592.7,277.6 L593.7,277.7 L594.7,277.7 L595.7,277.7 L596.7,277.6 L597.7,277.8 L598.7,277.6 L599.7,277.7 L600.7,277.7 L601.7,277.5 L602.7,277.8 L603.7,277.6 L604.7,277.8 L605.7,277.9 L606.7,277.9 L607.7,277.9 L608.7,277.7 L609.7,277.7 L610.7,277.7 L611.7,277.9 L612.7,277.6 L613.7,277.6 L614.7,277.8 L615.7,277.9 L616.7,277.9 L617.7,278.0 L618.7,277.8 L619.7,277.9 L620.7,277.8 L621.7,277.9 L622.7,277.7 L623.7,277.8 L624.7,277.8 L625.7,277.9 L626.7,277.8 L627.7,277.9 L628.7,278.0 L629.7,277.9 L630.7,277.8 L631.7,277.7 L632.7,277.9 L633.7,277.9 L634.7,277.8 L635.7,277.9 L636.7,277.8 L637.7,277.8 L638.7,277.8 L639.7,277.8 L640.7,278.0 L641.7,277.8 L642.7,277.8 L643.7,278.0 L644.7,278.0 L645.7,277.8 L646.7,277.9 L647.7,278.0 L648.7,278.0 L649.7,278.1" fill="none" stroke="#e8b3ad" stroke-width="1.0" stroke-linejoin="miter" stroke-miterlimit="2"/>
<path d="M418.7,333.9 L419.7,333.5 L420.7,333.7 L421.7,333.5 L422.7,333.9 L423.7,333.5 L424.7,333.8 L425.7,333.9 L426.7,334.0 L427.7,334.1 L428.7,333.7 L429.7,333.6 L430.7,333.8 L431.7,333.6 L432.7,333.5 L433.7,333.5 L434.7,333.9 L435.7,334.0 L436.7,334.0 L437.7,333.7 L438.7,334.0 L439.7,333.9 L440.7,333.6 L441.7,333.7 L442.7,333.7 L443.7,333.4 L444.7,333.7 L445.7,333.6 L446.7,333.8 L447.7,334.3 L448.7,334.2 L449.7,333.5 L450.7,332.5 L451.7,333.0 L452.7,332.4 L453.7,331.5 L454.1,330.0 L454.7,307.9 L455.4,282.6 L455.7,293.3 L456.7,326.9 L457.7,326.4 L458.7,331.7 L459.7,333.8 L460.7,333.6 L461.7,333.8 L462.7,334.2 L463.7,333.7 L464.7,333.6 L465.7,333.5 L466.7,333.7 L467.7,334.1 L468.7,334.0 L469.7,333.9 L470.7,333.9 L471.7,333.8 L472.7,334.1 L473.7,334.0 L474.7,333.9 L475.7,333.9 L476.7,334.0 L477.7,333.9 L478.7,334.1 L479.7,334.0 L480.7,334.0 L481.7,333.9 L482.7,334.1 L483.7,334.1 L484.7,334.1 L485.7,333.9 L486.7,334.0 L487.7,334.0 L488.7,334.1 L489.7,334.2 L490.7,334.2 L491.7,334.0 L492.7,333.9 L493.7,334.1 L494.7,334.2 L495.7,334.0 L496.7,334.1 L497.7,334.1 L498.7,334.2 L499.7,334.0 L500.7,333.9 L501.7,334.2 L502.7,334.2 L503.7,334.1 L504.7,334.2 L505.7,334.2 L506.7,334.2 L507.7,334.1 L508.7,334.0 L509.7,334.0 L510.7,334.0 L511.7,334.2 L512.7,334.1 L513.7,334.1 L514.7,334.2 L515.7,334.3 L516.7,334.3 L517.7,334.2 L518.7,334.3 L519.7,334.3 L520.7,334.4 L521.7,334.4 L522.7,334.1 L523.7,334.3 L524.7,334.2 L525.7,334.2 L526.7,334.2 L527.7,334.1 L528.7,334.1 L529.7,334.4 L530.7,334.3 L531.7,334.4 L532.7,334.4 L533.7,334.3 L534.7,334.2 L535.7,334.3 L536.7,334.4 L537.7,334.3 L538.7,334.2 L539.7,334.2 L540.7,334.4 L541.7,334.4 L542.7,334.3 L543.7,334.4 L544.7,334.4 L545.7,334.3 L546.7,334.5 L547.7,334.3 L548.7,334.2 L549.7,334.3 L550.7,334.4 L551.7,334.4 L552.7,334.4 L553.7,334.5 L554.7,334.4 L555.7,334.5 L556.7,334.3 L557.7,334.5 L558.7,334.3 L559.7,334.5 L560.7,334.6 L561.7,334.5 L562.7,334.5 L563.7,334.5 L564.7,334.6 L565.7,334.5 L566.7,334.4 L567.7,334.5 L568.7,334.5 L569.7,334.4 L570.7,334.5 L571.7,334.5 L572.7,334.4 L573.7,334.5 L574.7,334.6 L575.7,334.5 L576.7,334.6 L577.7,334.7 L578.7,334.7 L579.7,334.6 L580.7,334.5 L581.7,334.4 L582.7,334.5 L583.7,334.7 L584.7,334.5 L585.7,334.7 L586.7,334.7 L587.7,334.7 L588.7,334.5 L589.7,334.6 L590.7,334.5 L591.7,334.6 L592.7,334.7 L593.7,334.7 L594.7,334.7 L595.7,334.8 L596.7,334.6 L597.7,334.5 L598.7,334.7 L599.7,334.6 L600.7,334.6 L601.7,334.6 L602.7,334.8 L603.7,334.7 L604.7,334.7 L605.7,334.7 L606.7,334.7 L607.7,334.7 L608.7,334.7 L609.7,334.8 L610.7,334.7 L611.7,334.7 L612.7,334.9 L613.7,334.9 L614.7,334.7 L615.7,334.9 L616.7,334.7 L617.7,334.7 L618.7,334.9 L619.7,334.7 L620.7,334.8 L621.7,335.0 L622.7,334.9 L623.7,334.8 L624.7,334.7 L625.7,334.8 L626.7,334.8 L627.7,334.9 L628.7,334.8 L629.7,334.9 L630.7,334.8 L631.7,334.9 L632.7,335.0 L633.7,334.8 L634.7,335.0 L635.7,334.9 L636.7,334.9 L637.7,335.0 L638.7,335.0 L639.7,334.9 L640.7,334.8 L641.7,334.8 L642.7,335.0 L643.7,334.9 L644.7,335.0 L645.7,335.0 L646.7,335.0 L647.7,334.9 L648.7,335.0 L649.7,335.0" fill="none" stroke="#c0c0c0" stroke-width="1.0" stroke-linejoin="miter" stroke-miterlimit="2"/>
<path d="M44.5,10 V390.4 H276.8" fill="none" stroke="#666" stroke-width="1.2"/>
<line x1="44.5" y1="390.40" x2="47.9" y2="390.40" stroke="#666" stroke-width="1.1"/>
<text x="40.0" y="393.70" text-anchor="end" font-size="12" fill="#1a1a1a">4.5</text>
<line x1="44.5" y1="336.06" x2="47.9" y2="336.06" stroke="#666" stroke-width="1.1"/>
<text x="40.0" y="339.36" text-anchor="end" font-size="12" fill="#1a1a1a">5.0</text>
<line x1="44.5" y1="281.71" x2="47.9" y2="281.71" stroke="#666" stroke-width="1.1"/>
<text x="40.0" y="285.01" text-anchor="end" font-size="12" fill="#1a1a1a">5.5</text>
<line x1="44.5" y1="227.37" x2="47.9" y2="227.37" stroke="#666" stroke-width="1.1"/>
<text x="40.0" y="230.67" text-anchor="end" font-size="12" fill="#1a1a1a">6.0</text>
<line x1="44.5" y1="173.03" x2="47.9" y2="173.03" stroke="#666" stroke-width="1.1"/>
<text x="40.0" y="176.33" text-anchor="end" font-size="12" fill="#1a1a1a">6.5</text>
<line x1="44.5" y1="118.69" x2="47.9" y2="118.69" stroke="#666" stroke-width="1.1"/>
<text x="40.0" y="121.99" text-anchor="end" font-size="12" fill="#1a1a1a">7.0</text>
<line x1="44.5" y1="64.34" x2="47.9" y2="64.34" stroke="#666" stroke-width="1.1"/>
<text x="40.0" y="67.64" text-anchor="end" font-size="12" fill="#1a1a1a">7.5</text>
<line x1="44.5" y1="10.00" x2="47.9" y2="10.00" stroke="#666" stroke-width="1.1"/>
<text x="40.0" y="13.30" text-anchor="end" font-size="12" fill="#1a1a1a">8.0</text>
<line x1="44.50" y1="390.4" x2="44.50" y2="387.0" stroke="#666" stroke-width="1.1"/>
<text x="44.50" y="403.80" text-anchor="middle" font-size="12" fill="#1a1a1a">0</text>
<line x1="90.96" y1="390.4" x2="90.96" y2="387.0" stroke="#666" stroke-width="1.1"/>
<text x="90.96" y="403.80" text-anchor="middle" font-size="12" fill="#1a1a1a">1</text>
<line x1="137.42" y1="390.4" x2="137.42" y2="387.0" stroke="#666" stroke-width="1.1"/>
<text x="137.42" y="403.80" text-anchor="middle" font-size="12" fill="#1a1a1a">2</text>
<line x1="183.88" y1="390.4" x2="183.88" y2="387.0" stroke="#666" stroke-width="1.1"/>
<text x="183.88" y="403.80" text-anchor="middle" font-size="12" fill="#1a1a1a">3</text>
<line x1="230.34" y1="390.4" x2="230.34" y2="387.0" stroke="#666" stroke-width="1.1"/>
<text x="230.34" y="403.80" text-anchor="middle" font-size="12" fill="#1a1a1a">4</text>
<line x1="276.80" y1="390.4" x2="276.80" y2="387.0" stroke="#666" stroke-width="1.1"/>
<text x="276.80" y="403.80" text-anchor="middle" font-size="12" fill="#1a1a1a">5</text>
<path d="M418.7,13.4 V391.3 H649.7" fill="none" stroke="#666" stroke-width="1.2"/>
<line x1="418.7" y1="391.30" x2="422.09999999999997" y2="391.30" stroke="#666" stroke-width="1.1"/>
<text x="414.2" y="394.60" text-anchor="end" font-size="12" fill="#1a1a1a">7.5</text>
<line x1="418.7" y1="296.82" x2="422.09999999999997" y2="296.82" stroke="#666" stroke-width="1.1"/>
<text x="414.2" y="300.12" text-anchor="end" font-size="12" fill="#1a1a1a">8.0</text>
<line x1="418.7" y1="202.35" x2="422.09999999999997" y2="202.35" stroke="#666" stroke-width="1.1"/>
<text x="414.2" y="205.65" text-anchor="end" font-size="12" fill="#1a1a1a">8.5</text>
<line x1="418.7" y1="107.88" x2="422.09999999999997" y2="107.88" stroke="#666" stroke-width="1.1"/>
<text x="414.2" y="111.17" text-anchor="end" font-size="12" fill="#1a1a1a">9.0</text>
<line x1="418.7" y1="13.40" x2="422.09999999999997" y2="13.40" stroke="#666" stroke-width="1.1"/>
<text x="414.2" y="16.70" text-anchor="end" font-size="12" fill="#1a1a1a">9.5</text>
<line x1="418.70" y1="391.3" x2="418.70" y2="387.90000000000003" stroke="#666" stroke-width="1.1"/>
<text x="418.70" y="404.70" text-anchor="middle" font-size="12" fill="#1a1a1a">0</text>
<line x1="464.90" y1="391.3" x2="464.90" y2="387.90000000000003" stroke="#666" stroke-width="1.1"/>
<text x="464.90" y="404.70" text-anchor="middle" font-size="12" fill="#1a1a1a">1</text>
<line x1="511.10" y1="391.3" x2="511.10" y2="387.90000000000003" stroke="#666" stroke-width="1.1"/>
<text x="511.10" y="404.70" text-anchor="middle" font-size="12" fill="#1a1a1a">2</text>
<line x1="557.30" y1="391.3" x2="557.30" y2="387.90000000000003" stroke="#666" stroke-width="1.1"/>
<text x="557.30" y="404.70" text-anchor="middle" font-size="12" fill="#1a1a1a">3</text>
<line x1="603.50" y1="391.3" x2="603.50" y2="387.90000000000003" stroke="#666" stroke-width="1.1"/>
<text x="603.50" y="404.70" text-anchor="middle" font-size="12" fill="#1a1a1a">4</text>
<line x1="649.70" y1="391.3" x2="649.70" y2="387.90000000000003" stroke="#666" stroke-width="1.1"/>
<text x="649.70" y="404.70" text-anchor="middle" font-size="12" fill="#1a1a1a">5</text>
<line x1="96.6" y1="23" x2="94.8" y2="390" stroke="#9468e0" stroke-width="1.8" stroke-dasharray="5.7 5.27"/>
<line x1="469.4" y1="16.9" x2="468.5" y2="391.3" stroke="#8a5ade" stroke-width="1.85" stroke-dasharray="7.6 6.65"/>
<circle cx="83.8" cy="36.9" r="2.15" fill="#b4b4b4" stroke="#707070" stroke-width="0.85"/>
<circle cx="81.4" cy="91.9" r="2.15" fill="#b4b4b4" stroke="#707070" stroke-width="0.85"/>
<circle cx="82.4" cy="155.6" r="2.15" fill="#b4b4b4" stroke="#707070" stroke-width="0.85"/>
<circle cx="80.9" cy="209.7" r="2.15" fill="#b4b4b4" stroke="#707070" stroke-width="0.85"/>
<circle cx="78.1" cy="265.1" r="2.15" fill="#b4b4b4" stroke="#707070" stroke-width="0.85"/>
<circle cx="66.4" cy="292.8" r="2.15" fill="#b4b4b4" stroke="#707070" stroke-width="0.85"/>
<circle cx="470.2" cy="73.4" r="2.15" fill="#b4b4b4" stroke="#707070" stroke-width="0.85"/>
<circle cx="467.8" cy="131.4" r="2.15" fill="#b4b4b4" stroke="#707070" stroke-width="0.85"/>
<circle cx="465.8" cy="187.2" r="2.15" fill="#b4b4b4" stroke="#707070" stroke-width="0.85"/>
<circle cx="456.6" cy="225" r="2.15" fill="#b4b4b4" stroke="#707070" stroke-width="0.85"/>
<circle cx="455.4" cy="282.6" r="2.15" fill="#b4b4b4" stroke="#707070" stroke-width="0.85"/>
<path d="M66.4,292.8 L78.1,265.1 L80.9,209.7 L82.4,155.6 L81.4,91.9 L83.8,36.9" fill="none" stroke="#dc2b36" stroke-width="2.2" stroke-dasharray="7.3 7.07"/>
<path d="M455.4,282.6 L456.6,225 L465.8,187.2 L467.8,131.4 L470.2,73.4" fill="none" stroke="#dc2b36" stroke-width="2.2" stroke-dasharray="7.8 6.2" stroke-dashoffset="10.6"/>
<line x1="92.6" y1="71.5" x2="140.2" y2="71.5" stroke="#111" stroke-width="1.4"/>
<path d="M84.6,71.5 L95.1,69.1 L95.1,73.9 Z" fill="#111"/>
<line x1="111.1" y1="112.7" x2="158.2" y2="112.7" stroke="#111" stroke-width="1.4"/>
<path d="M103.1,112.7 L113.6,110.3 L113.6,115.10000000000001 Z" fill="#111"/>
<line x1="479.2" y1="109.6" x2="525.5" y2="109.6" stroke="#111" stroke-width="1.4"/>
<path d="M471.2,109.6 L481.7,107.19999999999999 L481.7,112.0 Z" fill="#111"/>
<line x1="482.5" y1="162.1" x2="529" y2="162.1" stroke="#111" stroke-width="1.4"/>
<path d="M474.5,162.1 L485.0,159.7 L485.0,164.5 Z" fill="#111"/>
<line x1="150.6" y1="229.6" x2="150.6" y2="266.6" stroke="#111" stroke-width="1.4"/>
<path d="M150.6,221.6 L148.2,232.1 L153.0,232.1 Z" fill="#111"/>
<line x1="525.6" y1="263" x2="525.6" y2="334.2" stroke="#111" stroke-width="1.4"/>
<path d="M525.6,255 L523.2,265.5 L528.0,265.5 Z" fill="#111"/>
<path d="M149.50,67.20 C149.50,66.17 148.80,65.69 148.00,65.69 C147.10,65.79 146.60,66.45 146.30,67.49 L143.40,76.82 C143.00,78.14 142.30,78.80 141.40,78.80 C140.80,78.80 140.40,78.42 140.40,77.95" fill="none" stroke="#111" stroke-width="1.25" stroke-linecap="round"/>
<path d="M143.50,69.75 L147.60,69.75" stroke="#111" stroke-width="1.25"/>
<circle cx="149.15" cy="67.11" r="0.7" fill="#111"/>
<circle cx="140.80" cy="77.86" r="0.7" fill="#111"/>
<text x="147.2" y="79.5" font-style="italic" font-size="9.7" fill="#111">osc</text>
<path d="M168.30,108.60 C168.30,107.57 167.60,107.09 166.80,107.09 C165.90,107.19 165.40,107.85 165.10,108.89 L162.20,118.22 C161.80,119.54 161.10,120.20 160.20,120.20 C159.60,120.20 159.20,119.82 159.20,119.35" fill="none" stroke="#111" stroke-width="1.25" stroke-linecap="round"/>
<path d="M162.30,111.15 L166.40,111.15" stroke="#111" stroke-width="1.25"/>
<circle cx="167.95" cy="108.51" r="0.7" fill="#111"/>
<circle cx="159.60" cy="119.26" r="0.7" fill="#111"/>
<text x="164.9" y="120.8" font-style="italic" font-size="9.7" fill="#111">n</text>
<path d="M534.50,106.50 C534.50,105.47 533.80,104.99 533.00,104.99 C532.10,105.09 531.60,105.75 531.30,106.79 L528.40,116.12 C528.00,117.44 527.30,118.10 526.40,118.10 C525.80,118.10 525.40,117.72 525.40,117.25" fill="none" stroke="#111" stroke-width="1.25" stroke-linecap="round"/>
<path d="M528.50,109.05 L532.60,109.05" stroke="#111" stroke-width="1.25"/>
<circle cx="534.15" cy="106.41" r="0.7" fill="#111"/>
<circle cx="525.80" cy="117.16" r="0.7" fill="#111"/>
<text x="532.2" y="118.5" font-style="italic" font-size="9.7" fill="#111">osc</text>
<path d="M539.40,158.00 C539.40,156.97 538.70,156.49 537.90,156.49 C537.00,156.59 536.50,157.25 536.20,158.29 L533.30,167.62 C532.90,168.94 532.20,169.60 531.30,169.60 C530.70,169.60 530.30,169.22 530.30,168.75" fill="none" stroke="#111" stroke-width="1.25" stroke-linecap="round"/>
<path d="M533.40,160.55 L537.50,160.55" stroke="#111" stroke-width="1.25"/>
<circle cx="539.05" cy="157.91" r="0.7" fill="#111"/>
<circle cx="530.70" cy="168.66" r="0.7" fill="#111"/>
<text x="537.0" y="170.3" font-style="italic" font-size="9.7" fill="#111">n</text>
<text x="155.3" y="249.9" font-size="13.3" fill="#1a1a1a">The flow volocity increases</text>
<text x="534" y="303.3" font-size="13.3" fill="#1a1a1a">The flow volocity increases</text>
<text transform="translate(17.1,262.2) rotate(-90)" font-size="14.5" fill="#1a1a1a">Reduced velocity<tspan font-style="italic" dx="9.5">U</tspan><tspan font-style="italic" font-size="11" dx="0.6" dy="3.4">r</tspan></text>
<text transform="translate(391.9,265.4) rotate(-90)" font-size="14.5" fill="#1a1a1a">Reduced velocity<tspan font-style="italic" dx="9.5">U</tspan><tspan font-style="italic" font-size="11" dx="0.6" dy="3.4">r</tspan></text>
<text x="110" y="423" font-size="14.5" fill="#1a1a1a">Frequency<tspan dx="9.5" style="stroke-width:0" fill="#333">(</tspan><tspan dx="0.5">Hz</tspan><tspan dx="0.8" style="stroke-width:0" fill="#333">)</tspan></text>
<text x="484" y="423.6" font-size="14.5" fill="#1a1a1a">Frequency<tspan dx="9.5" style="stroke-width:0" fill="#333">(</tspan><tspan dx="0.5">Hz</tspan><tspan dx="0.8" style="stroke-width:0" fill="#333">)</tspan></text>
<text x="148.5" y="461" font-family='"Liberation Sans", sans-serif' font-size="22" letter-spacing="3.6" fill="#111">(a)</text>
<text x="550.5" y="461" font-family='"Liberation Sans", sans-serif' font-size="22" letter-spacing="3.6" fill="#111">(b)</text>
</svg></body></html>
